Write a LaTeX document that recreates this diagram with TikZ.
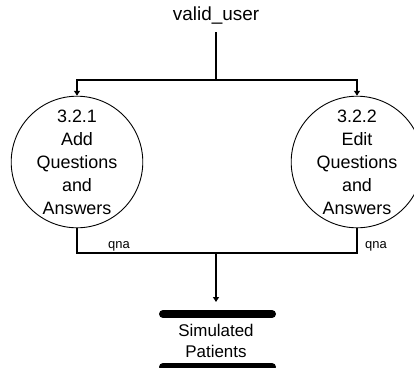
\documentclass[tikz,border=0pt]{standalone}
\usepackage{fontspec}
\setmainfont{Liberation Sans}
\usetikzlibrary{arrows.meta}
\begin{document}
\begin{tikzpicture}[x=1bp,y=-1bp,
  flow/.style={line width=1.1bp,-{Triangle[length=5bp,width=6bp]}},
  line/.style={line width=1.1bp},
  proc/.style={circle,draw,line width=0.9bp,minimum size=130bp,inner sep=0pt,align=center,font=\fontsize{18}{23}\selectfont},
  lbl/.style={font=\fontsize{13}{15}\selectfont,inner sep=1bp},
  bar/.style={line width=8bp,line cap=round}]
\useasboundingbox (0,0) rectangle (414,368);
\node[font=\fontsize{19}{22}\selectfont] (vu) at (216,16) {valid\_user};
\node[proc] (p1) at (77,162) {3.2.1\\Add\\Questions\\and\\Answers};
\node[proc] (p2) at (357,162) {3.2.2\\Edit\\Questions\\and\\Answers};
\coordinate (split) at (216,80);
\coordinate (join) at (216,253);
\draw[line] (216,32) -- (split);
\draw[flow] (split) -| (p1.north);
\draw[flow] (split) -| (p2.north);
\draw[line] (p1.south) |- (join);
\draw[line] (p2.south) |- (join);
\node[lbl,anchor=south west] (q1) at (107,252) {qna};
\node[lbl,anchor=south west] (q2) at (364,252) {qna};
\node[align=center,font=\fontsize{17}{21}\selectfont] (ds) at (216,341) {Simulated\\Patients};
\coordinate (bt1) at (163,314);
\coordinate (bt2) at (272,314);
\coordinate (bb1) at (163,367);
\coordinate (bb2) at (272,367);
\draw[bar] (bt1) -- (bt2);
\draw[bar] (bb1) -- (bb2);
\draw[flow] (join) -- (216,302);
\end{tikzpicture}
\end{document}
